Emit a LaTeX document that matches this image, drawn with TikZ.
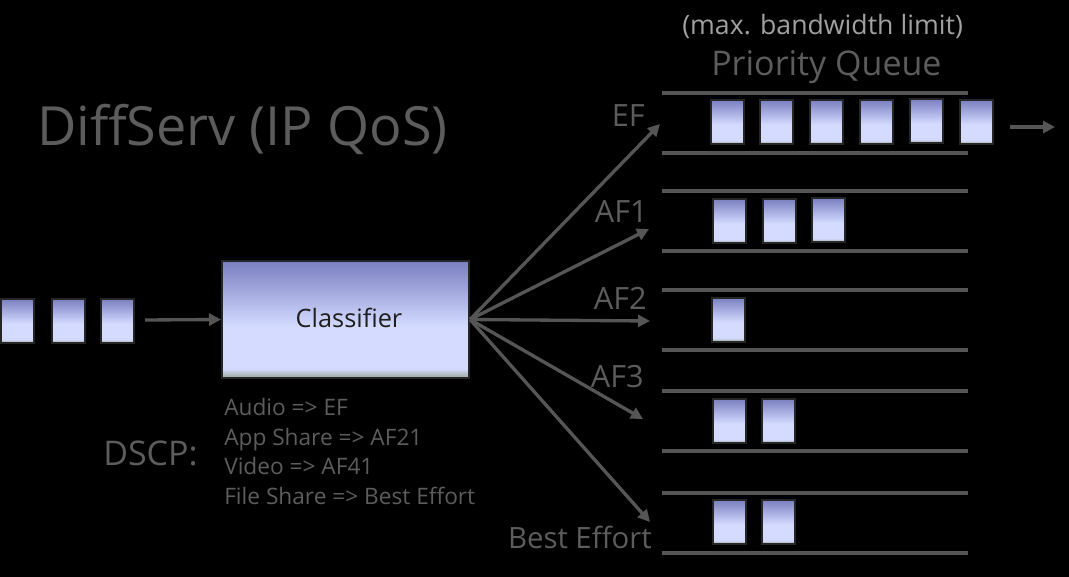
\documentclass[tikz,border=0pt]{standalone}
\usepackage{fontspec}
\setmainfont{Open Sans}
\usetikzlibrary{arrows.meta,positioning}

\definecolor{pkttop}{HTML}{7A7FC0}
\definecolor{pktmid}{HTML}{D4DBFF}
\definecolor{pktbot}{HTML}{9AA898}
\definecolor{edgegray}{HTML}{262626}
\definecolor{linegray}{HTML}{555555}
\definecolor{textgray}{HTML}{5C5C5C}
\definecolor{notegray}{HTML}{A0A0A0}
\pgfdeclareverticalshading{pktshade}{100bp}{color(0bp)=(pktbot); color(25bp)=(pktbot); color(29bp)=(pktmid); color(47bp)=(pktmid); color(75bp)=(pkttop); color(100bp)=(pkttop)}

\begin{document}
\begin{tikzpicture}[x=0.75pt,y=-0.75pt,
    pkt/.style={draw=edgegray,line width=1.5pt,shade,shading=pktshade,minimum width=24.75pt,minimum height=33pt,inner sep=0pt},
    lbl/.style={text=textgray,inner sep=0pt},
    flow/.style={draw=linegray,line width=2.5pt,-{Triangle[length=9pt,width=9pt]}},
    lane/.style={draw=linegray,line width=2.5pt}]
    \fill[black] (0,0) rectangle (1069,577);
    \node[lbl,anchor=base west,font=\fontsize{40.5}{48}\selectfont] (title) at (37,146) {DiffServ (IP QoS)};
    \node[lbl,anchor=base west,text=notegray,font=\fontsize{20}{24}\selectfont] (note) at (682,35) {(max. bandwidth limit)};
    \node[lbl,anchor=base west,font=\fontsize{25.5}{30}\selectfont] (pq) at (711,76) {Priority Queue};

    % incoming packets
    \node[pkt] (in1) at (17.5,321) {};
    \node[pkt] (in2) at (68,321) {};
    \node[pkt] (in3) at (117.5,321) {};
    \coordinate (src) at (145,320);
    \node[draw=edgegray,line width=1.5pt,shade,shading=pktshade,minimum width=185.25pt,minimum height=87.75pt,inner sep=0pt] (cls) at (345.5,319.5) {};
    \node[anchor=base,inner sep=0pt,text=black!88,font=\fontsize{19}{22}\selectfont] (clstext) at (349,327) {Classifier};
    \draw[flow] (src) -- (cls.west);

    % DSCP marking
    \node[lbl,anchor=base west,font=\fontsize{25.5}{30}\selectfont] (dscp) at (103,465) {DSCP:};
    \node[lbl,anchor=base west,font=\fontsize{17}{20}\selectfont] (m1) at (224,415) {Audio => EF};
    \node[lbl,anchor=base west,font=\fontsize{17}{20}\selectfont] (m2) at (224,445) {App Share => AF21};
    \node[lbl,anchor=base west,font=\fontsize{17}{20}\selectfont] (m3) at (224,474) {Video => AF41};
    \node[lbl,anchor=base west,font=\fontsize{17}{20}\selectfont] (m4) at (224,504) {File Share => Best Effort};

    % queues
    \draw[lane] (662,93) -- (968,93);
    \draw[lane] (662,153) -- (968,153);
    \draw[lane] (662,191) -- (968,191);
    \draw[lane] (662,251) -- (968,251);
    \draw[lane] (662,290) -- (968,290);
    \draw[lane] (662,350) -- (968,350);
    \draw[lane] (662,391) -- (968,391);
    \draw[lane] (662,451) -- (968,451);
    \draw[lane] (662,493) -- (968,493);
    \draw[lane] (662,553) -- (968,553);

    \node[lbl,anchor=base east,font=\fontsize{23}{28}\selectfont] (ef) at (645,127) {EF};
    \node[lbl,anchor=base east,font=\fontsize{23}{28}\selectfont] (af1) at (648,223) {AF1};
    \node[lbl,anchor=base east,font=\fontsize{23}{28}\selectfont] (af2) at (647,309) {AF2};
    \node[lbl,anchor=base east,font=\fontsize{23}{28}\selectfont] (af3) at (644,387) {AF3};
    \node[lbl,anchor=base east,font=\fontsize{22}{28}\selectfont] (be) at (652,548) {Best Effort};

    \coordinate (efTip) at (660,124);
    \coordinate (af1Tip) at (649,229);
    \coordinate (af2Tip) at (650,321);
    \coordinate (af3Tip) at (643,419);
    \coordinate (beTip) at (650,522);
    \draw[flow] (cls.east) -- (efTip);
    \draw[flow] (cls.east) -- (af1Tip);
    \draw[flow] (cls.east) -- (af2Tip);
    \draw[flow] (cls.east) -- (af3Tip);
    \draw[flow] (cls.east) -- (beTip);

    % queued packets
    \node[pkt] (ef1) at (727,122) {};
    \node[pkt] (ef2) at (776,122) {};
    \node[pkt] (ef3) at (826,122) {};
    \node[pkt] (ef4) at (876,122) {};
    \node[pkt] (ef5) at (926,121) {};
    \node[pkt] (ef6) at (976,122) {};
    \node[pkt] (a11) at (729.5,221) {};
    \node[pkt] (a12) at (779.5,221) {};
    \node[pkt] (a13) at (828.5,220) {};
    \node[pkt] (a21) at (728,319.5) {};
    \node[pkt] (a31) at (729,421) {};
    \node[pkt] (a32) at (778.5,421) {};
    \node[pkt] (b1) at (729,522) {};
    \node[pkt] (b2) at (778,522) {};

    \coordinate (outA) at (1010,127);
    \coordinate (outB) at (1055,127);
    \draw[flow] (outA) -- (outB);
\end{tikzpicture}
\end{document}
